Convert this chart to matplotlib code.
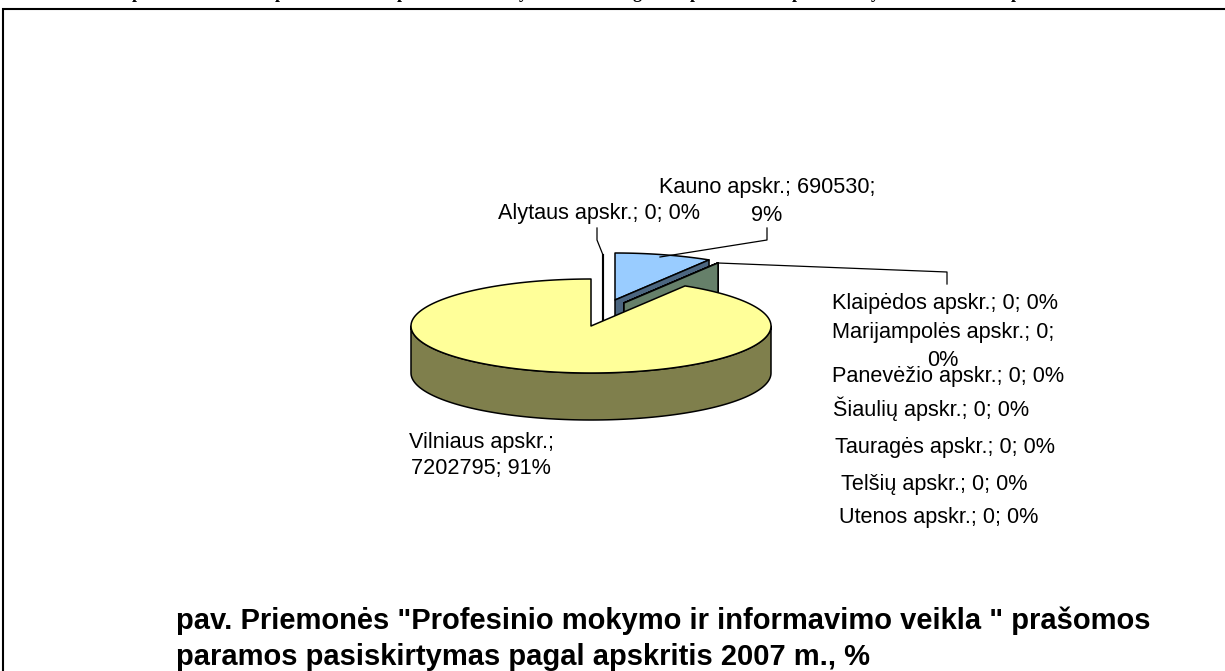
import numpy as np
import matplotlib
matplotlib.use("Agg")
import matplotlib.pyplot as plt
from matplotlib.patches import Polygon

# ---- data
categories = ["Alytaus apskr.", "Kauno apskr.", "Klaipėdos apskr.", "Marijampolės apskr.",
              "Panevėžio apskr.", "Šiaulių apskr.", "Tauragės apskr.", "Telšių apskr.",
              "Utenos apskr.", "Vilniaus apskr."]
values = [0, 690530, 0, 0, 0, 0, 0, 0, 0, 7202795]
percents = [0, 9, 0, 0, 0, 0, 0, 0, 0, 91]
caption_lines = ['pav. Priemonės "Profesinio mokymo ir informavimo veikla " prašomos',
                 'paramos pasiskirtymas pagal apskritis 2007 m., %']
clipped_title_glyphs = ["p", "p", "p", "y", "g", "p", "p", "y", "p"]

# ---- layout (pixels)
W, H = 1225, 671
CX, CY, RX, RY, DEPTH = 591, 326, 180, 47, 47
EXPLODE = {"Alytaus apskr.": (12, -24), "Kauno apskr.": (24, -26)}
EXPLODE_ZERO = (33, -23)
YELLOW, OLIVE = "#FFFF99", "#7F7F4C"
BLUE, DARKBLUE, GREEN = "#99CCFF", "#4C6680", "#66806A"
LW = 1.1
FS = 15.6

fig = plt.figure(figsize=(W / 100, H / 100), dpi=100)
ax = fig.add_axes([0, 0, 1, 1])
ax.set_xlim(0, W)
ax.set_ylim(H, 0)
ax.axis("off")

total = sum(values)
bounds = np.concatenate([[0], np.cumsum(values)]) / total * 2 * np.pi


def rim(theta, cx=CX, cy=CY):
    return np.column_stack([cx + RX * np.sin(theta), cy - RY * np.cos(theta)])


def poly(pts, fc, z):
    ax.add_patch(Polygon(pts, closed=True, fc=fc, ec="black", lw=LW, joinstyle="round", zorder=z))


kauno_idx = categories.index("Kauno apskr.")
vil_idx = categories.index("Vilniaus apskr.")

# zero-value slices: exploded flat faces seen from the viewer
for i, (name, v) in enumerate(zip(categories, values)):
    if v == 0:
        dx, dy = EXPLODE.get(name, EXPLODE_ZERO)
        p = rim(np.array([bounds[i]]), CX + dx, CY + dy)[0]
        a = (CX + dx, CY + dy)
        if name == "Alytaus apskr.":
            ax.plot([p[0], p[0]], [p[1], a[1] + DEPTH], color="black", lw=LW * 1.4, zorder=2)
        else:
            poly([a, p, (p[0], p[1] + DEPTH), (a[0], a[1] + DEPTH)], GREEN, 4)

# Kauno slice
dx, dy = EXPLODE["Kauno apskr."]
ka = (CX + dx, CY + dy)
th = np.linspace(bounds[kauno_idx], bounds[kauno_idx + 1], 40)
kr = rim(th, *ka)
poly(np.vstack([[ka], kr]), BLUE, 2)
poly([ka, kr[-1], kr[-1] + (0, DEPTH), (ka[0], ka[1] + DEPTH)], DARKBLUE, 3)

# Vilnius slice
th = np.linspace(np.pi / 2, 3 * np.pi / 2, 120)
front = rim(th)
poly(np.vstack([front, (front + (0, DEPTH))[::-1]]), OLIVE, 5)
th = np.linspace(bounds[vil_idx], bounds[vil_idx + 1], 300)
poly(np.vstack([[(CX, CY)], rim(th)]), YELLOW, 6)

# leader lines
leaders = [([603, 597, 597], [255, 240, 228]),
           ([660, 767, 767], [257, 240, 228]),
           ([718, 947, 947], [263, 272, 284])]
for xs, ys in leaders:
    ax.plot(xs, ys, color="black", lw=0.9, zorder=7)


def lab(i):
    return f"{categories[i]}; {values[i]}; {percents[i]}%"


font = dict(family="Liberation Sans", fontsize=FS, color="black", va="baseline", zorder=8)
ax.text(659, 193, f"{categories[1]}; {values[1]};", **font)
ax.text(767, 221, f"{percents[1]}%", ha="center", **font)
ax.text(498, 219, lab(0), **font)
ax.text(832, 309, lab(2), **font)
ax.text(832, 338, f"{categories[3]}; {values[3]};", **font)
ax.text(943, 366, f"{percents[3]}%", ha="center", **font)
ax.text(832, 382, lab(4), **font)
ax.text(833, 416, lab(5), **font)
ax.text(835, 453, lab(6), **font)
ax.text(841, 490, lab(7), **font)
ax.text(839, 523, lab(8), **font)
ax.text(409, 448, f"{categories[9]};", **font)
ax.text(411, 474, f"{values[9]}; {percents[9]}%", **font)

# caption
capfont = dict(family="Liberation Sans", fontsize=20.95, fontweight="bold", color="black", va="baseline")
ax.text(176, 629, caption_lines[0], **capfont)
ax.text(176, 665, caption_lines[1], **capfont)

# frame (only top and left survive the crop)
ax.plot([3, 3, W], [H, 9, 9], color="black", lw=1.5, solid_joinstyle="miter", zorder=9, clip_on=False)

# heading above the frame, cropped by the image's top edge in the reference
glyph_x = [137, 280, 402, 523, 637, 695, 797, 875, 1016]
for g, x in zip(clipped_title_glyphs, glyph_x):
    ax.text(x, -1.5, g, family="Liberation Serif", fontweight="bold", fontsize=13,
            ha="center", va="baseline", clip_on=False)

fig.savefig("out.png", dpi=100)
